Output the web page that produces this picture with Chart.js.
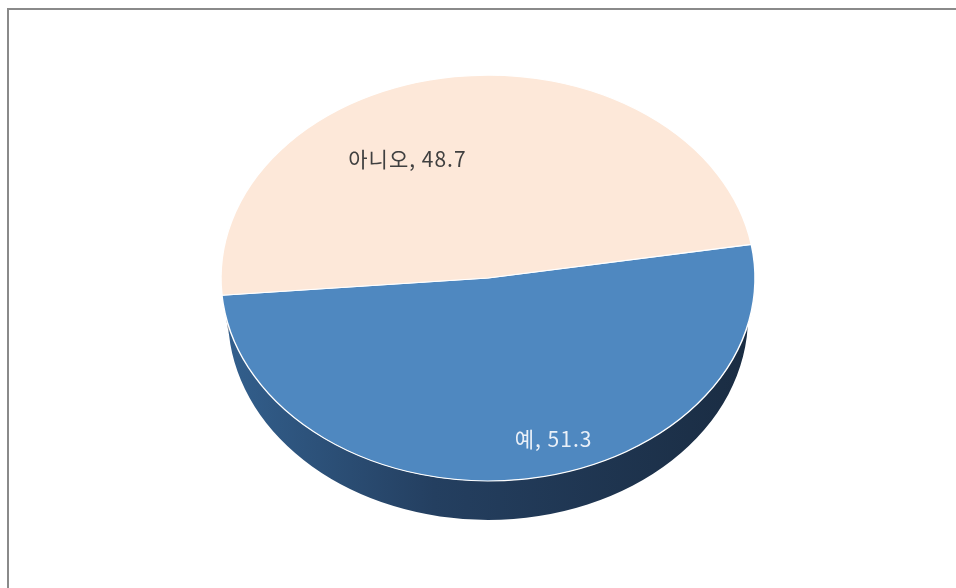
<!DOCTYPE html>
<html>
<head>
<meta charset="utf-8">
<script src="https://cdn.jsdelivr.net/npm/chart.js@4/dist/chart.umd.min.js"></script>
<style>
    html, body { margin: 0; padding: 0; background: #fff; }
    #wrap { position: relative; width: 956px; height: 588px; overflow: hidden; }
    #frame { position: absolute; left: 7px; top: 8px; width: 1000px; height: 1000px;
             border-left: 2px solid #8a8a8a; border-top: 2px solid #8a8a8a; }
    #chart-pie { position: absolute; left: 0; top: 0; }
</style>
</head>
<body>
<div id="wrap">
    <div id="frame"></div>
    <canvas id="chart-pie" width="956" height="588"></canvas>
</div>
<script>
var labels = ['예', '아니오'];
var values = [51.3, 48.7];
var colors = ['#4F88C0', '#FDE8D9'];
var sideColors = [['#33608E', '#243F60', '#1A2C42'], ['#D9C3B4', '#C6B0A1', '#B09A8B']];

var tilt = 0.76;   // vertical squash of the pie
var depth = 39;    // height of the side wall in px
var shrink = 7;    // bottom rim a bit narrower, fake perspective
// label placement: fraction of radius and angle shift (deg) from slice middle
var labelPlace = [{ frac: 0.83, shift: -10, color: '#EAF0F8' }, { frac: 0.66, shift: -20, color: '#404040' }];

function sideRanges(s, e) {
    var two = Math.PI * 2;
    var off = Math.floor(s / two) * two;
    s -= off; e -= off;
    var out = [];
    [[0, Math.PI], [two, two + Math.PI]].forEach(function (f) {
        var a = Math.max(s, f[0]), b = Math.min(e, f[1]);
        if (b > a) out.push([a, b]);
    });
    return out;
}

var pie3d = {
    id: 'pie3d',
    beforeDatasetsDraw: function (chart) {
        var ctx = chart.ctx;
        var meta = chart.getDatasetMeta(0);
        var cx = meta.data[0].x, cy = meta.data[0].y, r = meta.data[0].outerRadius;
        meta.data.forEach(function (arc, i) {
            sideRanges(arc.startAngle, arc.endAngle).forEach(function (rg) {
                var g = ctx.createLinearGradient(cx - r, 0, cx + r, 0);
                g.addColorStop(0, sideColors[i][0]);
                g.addColorStop(0.4, sideColors[i][1]);
                g.addColorStop(1, sideColors[i][2]);
                ctx.beginPath();
                ctx.ellipse(cx, cy + depth, r - shrink, r * tilt, 0, rg[0], rg[1], false);
                ctx.ellipse(cx, cy, r, r * tilt, 0, rg[1], rg[0], true);
                ctx.closePath();
                ctx.fillStyle = g;
                ctx.fill();
            });
        });
        ctx.save();
        ctx.translate(cx, cy);
        ctx.scale(1, tilt);
        ctx.translate(-cx, -cy);
    },
    afterDatasetsDraw: function (chart) {
        var ctx = chart.ctx;
        ctx.restore();
        var meta = chart.getDatasetMeta(0);
        ctx.save();
        ctx.font = '21px "Noto Sans CJK KR", "Noto Sans", sans-serif';
        ctx.letterSpacing = '1px';
        ctx.textAlign = 'center';
        ctx.textBaseline = 'middle';
        meta.data.forEach(function (arc, i) {
            var p = labelPlace[i];
            var mid = (arc.startAngle + arc.endAngle) / 2 + p.shift * Math.PI / 180;
            var x = arc.x + Math.cos(mid) * arc.outerRadius * p.frac;
            var y = arc.y + Math.sin(mid) * arc.outerRadius * p.frac * tilt;
            ctx.fillStyle = p.color;
            ctx.fillText(labels[i] + ', ' + values[i], x, y);
        });
        ctx.restore();
    }
};

var ctx = document.getElementById('chart-pie');
var myChart = new Chart(ctx, {
    type: 'pie',
    data: {
        labels: labels,
        datasets: [{
            data: values,
            backgroundColor: colors,
            borderColor: '#ffffff',
            borderWidth: 1.5,
            hoverOffset: 0
        }]
    },
    options: {
        responsive: false,
        animation: false,
        events: [],
        rotation: 80.45,
        radius: 267,
        layout: {
            padding: { left: 221, right: 201, top: 11, bottom: 43 }
        },
        plugins: {
            legend: { display: false },
            tooltip: { enabled: false }
        }
    },
    plugins: [pie3d]
});
</script>
</body>
</html>
